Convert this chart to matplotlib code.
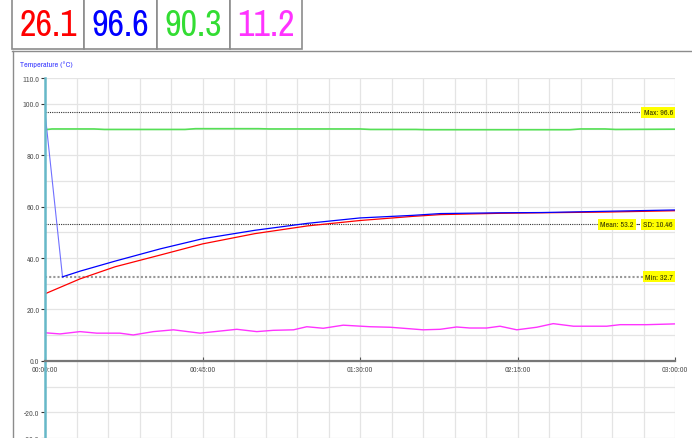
#!/usr/bin/env python3
"""Temperature logger chart: four probes over three hours with stats lines."""

import matplotlib

matplotlib.use("Agg")
import matplotlib.pyplot as plt
from matplotlib import font_manager
from matplotlib.patches import Rectangle
from matplotlib.ticker import FuncFormatter, MultipleLocator

# current readings shown in the header boxes
READINGS = ["26.1", "96.6", "90.3", "11.2"]
COLORS = ["#ff0000", "#0000ff", "#33dd33", "#ff33ff"]

# probe 1 (red) and probe 2 (blue), time in minutes
red_t = [0, 5, 10, 20, 33, 45, 60, 75, 90, 105, 113, 130, 142, 161, 180]
red_v = [26.1, 29.0, 31.9, 36.6, 41.2, 45.5, 49.5, 52.5, 54.6, 56.2, 56.9, 57.4, 57.6, 57.9, 58.4]
blue_t = [0, 5, 10, 20, 33, 45, 60, 75, 90, 105, 113, 130, 142, 161, 180]
blue_v = [96.6, 32.7, 34.9, 38.8, 43.6, 47.5, 50.8, 53.5, 55.6, 56.6, 57.3, 57.6, 57.7, 58.2, 58.7]

# probe 3 (green)
green_t = [0, 2, 14, 17, 40, 43, 61, 64, 90, 93, 106, 109, 150, 153, 160, 163, 180]
green_v = [89.9, 90.2, 90.2, 90.0, 90.0, 90.3, 90.3, 90.2, 90.2, 90.0, 90.0, 89.9, 89.9, 90.2, 90.2, 90.0, 90.1]

# probe 4 (magenta)
mag_t = [0.5, 4.3, 10, 14.8, 21.4, 25.2, 31, 36.7, 44.3, 54.8, 60.5, 65.2, 71, 74.8, 79.5,
         85.2, 92.9, 98.6, 104.3, 108, 112.9, 117.6, 121.4, 126.2, 130, 134.8, 140.5,
         145.2, 151, 160.5, 164.3, 171.9, 180]
mag_v = [10.9, 10.5, 11.4, 10.8, 10.8, 10.1, 11.4, 12.1, 10.8, 12.3, 11.4, 11.9, 12.1, 13.3, 12.7,
         13.9, 13.3, 13.1, 12.5, 12.1, 12.3, 13.2, 12.8, 12.8, 13.5, 12.1, 13.1,
         14.5, 13.5, 13.5, 14.1, 14.1, 14.4]

STAT_MAX = 96.6
STAT_MEAN = 53.2
STAT_SD = 10.46
STAT_MIN = 32.7

X_TICKS = [0, 45, 90, 135, 180]
X_LABELS = ["00:00:00", "00:45:00", "01:30:00", "02:15:00", "03:00:00"]
Y_TICKS = [-30, -20, 0, 20, 40, 60, 80, 100, 110]


def pick_narrow_font() -> tuple[str, str]:
    """Return (family, stretch) for a condensed face if one is installed."""
    for entry in font_manager.fontManager.ttflist:
        if "Narrow" in entry.name:
            return entry.name, "normal"
    for entry in font_manager.fontManager.ttflist:
        if entry.name == "DejaVu Sans" and entry.stretch in ("condensed", "semi-condensed"):
            return "DejaVu Sans", "condensed"
    return "", ""


def main() -> None:
    narrow_family, narrow_stretch = pick_narrow_font()
    if narrow_family:
        plt.rcParams["font.family"] = [narrow_family, "DejaVu Sans"]
        plt.rcParams["font.stretch"] = narrow_stretch
        small = 5.8
        big = 26
    else:
        plt.rcParams["font.family"] = ["Liberation Sans", "DejaVu Sans"]
        small = 5.0
        big = 21

    fig = plt.figure(figsize=(6.92, 4.39), dpi=100)

    # header boxes with the latest readings
    box_edges = [12, 84, 157, 230, 302]
    for i, (text, color) in enumerate(zip(READINGS, COLORS)):
        x0 = box_edges[i] / 692
        x1 = box_edges[i + 1] / 692
        fig.patches.append(
            Rectangle((x0, 1 - 50 / 439), x1 - x0, 52 / 439, transform=fig.transFigure,
                      facecolor="white", edgecolor="#8c8c8c", linewidth=1.2)
        )
        fig.text((x0 + x1) / 2, 1 - 25 / 439, text, color=color, fontsize=big,
                 ha="center", va="center")
    fig.add_artist(plt.Line2D([12 / 692, 1], [1 - 52 / 439] * 2, color="#8c8c8c", lw=1.0))
    fig.add_artist(plt.Line2D([13 / 692] * 2, [0, 1 - 52 / 439], color="#8c8c8c", lw=1.0))

    fig.text(20 / 692, 1 - 65 / 439, "Temperature (°C)", color="#3a3aff", fontsize=small,
             ha="left", va="center")

    ax = fig.add_axes([45 / 692, -0.0588, 630 / 692, 0.8788])
    ax.set_xlim(0, 180)
    ax.set_ylim(-40, 110)

    ax.xaxis.set_minor_locator(MultipleLocator(9))
    ax.yaxis.set_minor_locator(MultipleLocator(10))
    ax.set_xticks(X_TICKS)
    ax.set_xticklabels(X_LABELS)
    ax.set_yticks(Y_TICKS)
    ax.yaxis.set_major_formatter(FuncFormatter(lambda v, _: f"{v:.1f}"))
    ax.grid(which="both", color="#e4e4e4", linewidth=0.9)
    ax.set_axisbelow(True)

    for side in ("top", "right"):
        ax.spines[side].set_visible(False)
    ax.spines["left"].set_color("#66b8c8")
    ax.spines["left"].set_linewidth(1.8)
    ax.spines["bottom"].set_position(("data", 0))
    ax.spines["bottom"].set_color("#777777")
    ax.spines["bottom"].set_linewidth(1.6)

    ax.tick_params(axis="y", which="major", labelsize=small, labelcolor="#555555",
                   color="#333333", length=3, width=0.8, pad=1)
    ax.tick_params(axis="x", which="major", labelsize=small, labelcolor="#555555",
                   color="#555555", length=3, width=0.8, direction="in", pad=4)
    ax.tick_params(which="minor", length=0)

    # statistic reference lines
    ax.axhline(STAT_MAX, color="#333333", lw=0.8, ls=(0, (1, 1)))
    ax.axhline(STAT_MEAN, color="#333333", lw=0.8, ls=(0, (1, 1)))
    ax.axhline(STAT_MIN, color="#999999", lw=1.5, ls=(0, (1, 1)))

    ax.plot(green_t, green_v, color="#55e055", lw=1.2)
    ax.plot(mag_t, mag_v, color="#ff33ff", lw=1.0)
    ax.plot(red_t, red_v, color="#ff0000", lw=0.9)
    ax.plot(blue_t[:2], blue_v[:2], color="#7070ff", lw=0.8)
    ax.plot(blue_t[1:], blue_v[1:], color="#0000ff", lw=0.9)

    label_style = dict(fontsize=small, color="#333300", va="center", ha="right",
                       bbox=dict(boxstyle="square,pad=0.3", facecolor="#ffff00", edgecolor="none"))
    ax.text(179.4, STAT_MAX, f"Max: {STAT_MAX}", **label_style)
    ax.text(179.4, STAT_MEAN, f"SD: {STAT_SD}", **label_style)
    ax.text(169.5, STAT_MEAN, "-", fontsize=small, color="#333333", va="center", ha="center")
    ax.text(168.2, STAT_MEAN, f"Mean: {STAT_MEAN}", **label_style)
    ax.text(179.4, STAT_MIN, f"Min: {STAT_MIN}", **label_style)

    fig.savefig("out.png", dpi=100)
    plt.close(fig)


if __name__ == "__main__":
    main()
